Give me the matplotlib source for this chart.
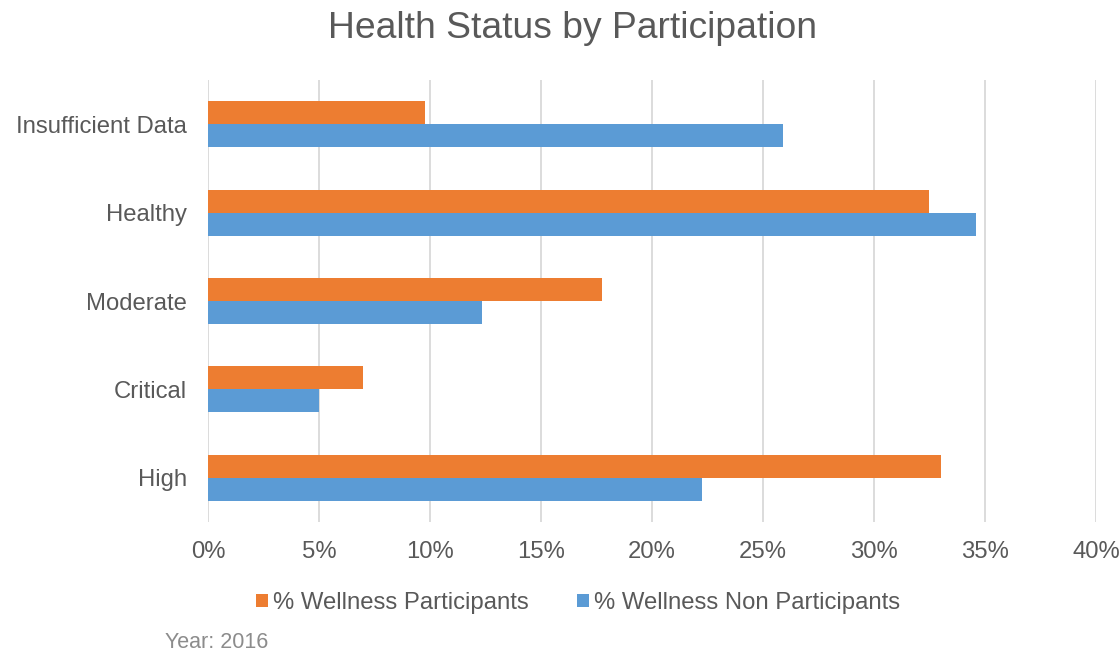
import numpy as np
import matplotlib
matplotlib.use("Agg")
import matplotlib.pyplot as plt
from matplotlib.ticker import FuncFormatter

# data
categories = ["Insufficient Data", "Healthy", "Moderate", "Critical", "High"]
participants = [9.79, 32.49, 17.74, 6.98, 33.04]
non_participants = [25.88, 34.6, 12.33, 5.0, 22.26]
x_ticks = [0, 5, 10, 15, 20, 25, 30, 35, 40]

orange = "#ED7D31"
blue = "#5B9BD5"
text_gray = "#595959"

plt.rcParams['font.family'] = ['Liberation Sans', 'DejaVu Sans']

fig = plt.figure(figsize=(11.2, 6.52), dpi=100)
ax = fig.add_axes([208 / 1120, 1 - 522 / 652, 888 / 1120, 442 / 652])

y = np.arange(len(categories))
h = 0.26
ax.barh(y - h / 2, participants, height=h, color=orange, label="% Wellness Participants", zorder=2)
ax.barh(y + h / 2, non_participants, height=h, color=blue, label="% Wellness Non Participants", zorder=2)

ax.set_xlim(0, 40)
ax.set_ylim(len(categories) - 0.5, -0.5)
ax.set_xticks(x_ticks)
ax.xaxis.set_major_formatter(FuncFormatter(lambda v, _: f"{v:.0f}%"))
ax.set_yticks(y)
ax.set_yticklabels(categories)

ax.grid(axis='x', color="#D9D9D9", linewidth=1.3, zorder=0)
for s in ax.spines.values():
    s.set_visible(False)
ax.tick_params(axis='both', length=0, labelsize=17.2, colors=text_gray)
ax.tick_params(axis='x', pad=14)
ax.tick_params(axis='y', pad=15)

fig.text(573 / 1120, 1 - 28 / 652, "Health Status by Participation", ha='center', va='center',
         fontsize=26.8, color=text_gray)

leg = fig.legend(loc='center', bbox_to_anchor=(578 / 1120, 1 - 603 / 652), ncol=2, frameon=False,
                 fontsize=17.2, handlelength=0.5, handleheight=0.5, handletextpad=0.2, columnspacing=2.05)
for t in leg.get_texts():
    t.set_color(text_gray)

fig.text(165 / 1120, 1 - 642 / 652, "Year: 2016", ha='left', va='center', fontsize=15.5, color="#8C8C8C")

fig.savefig("out.png", dpi=100)
